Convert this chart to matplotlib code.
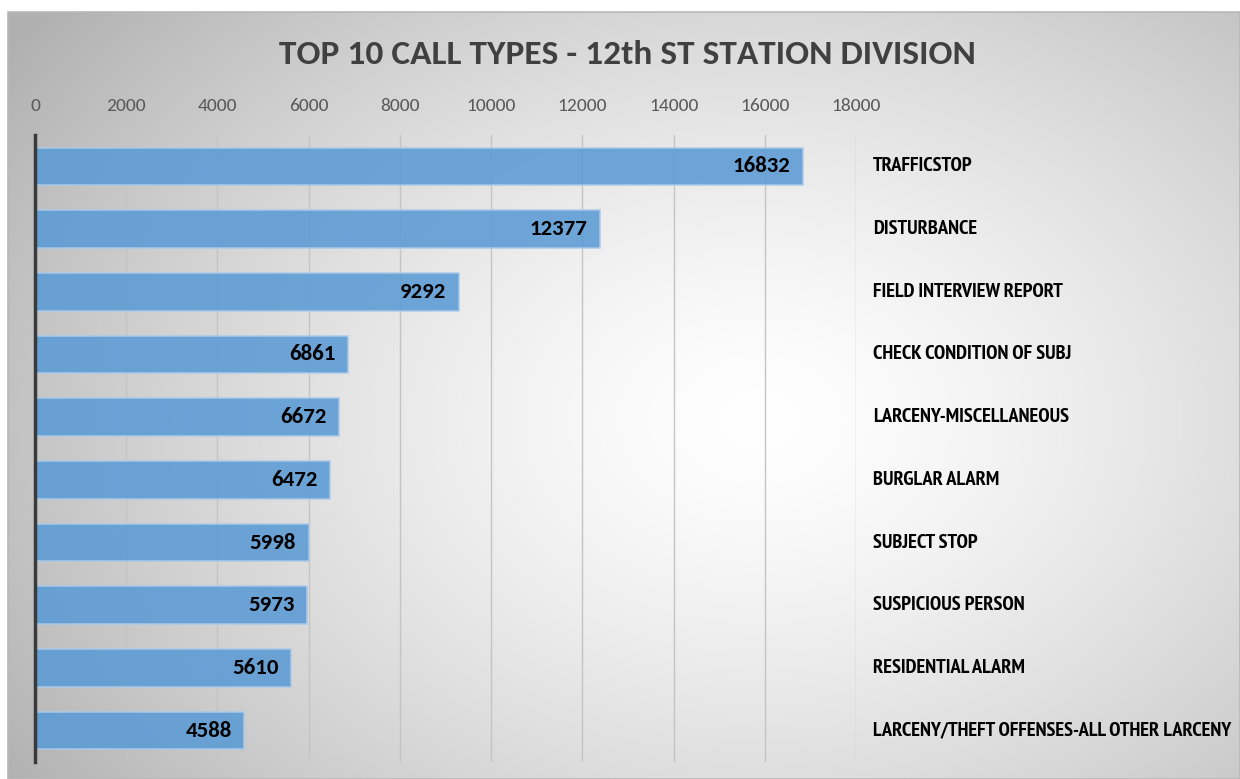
import numpy as np
import matplotlib
matplotlib.use('Agg')
import matplotlib.pyplot as plt
from matplotlib.patches import Rectangle
import logging
logging.getLogger('matplotlib.font_manager').setLevel(logging.ERROR)

categories = ['TRAFFICSTOP', 'DISTURBANCE', 'FIELD INTERVIEW REPORT',
              'CHECK CONDITION OF SUBJ', 'LARCENY-MISCELLANEOUS', 'BURGLAR ALARM',
              'SUBJECT STOP', 'SUSPICIOUS PERSON', 'RESIDENTIAL ALARM',
              'LARCENY/THEFT OFFENSES-ALL OTHER LARCENY']
counts = [16832, 12377, 9292, 6861, 6672, 6472, 5998, 5973, 5610, 4588]
xticks = np.arange(0, 18001, 2000)

main_font = ['Carlito', 'Lato', 'DejaVu Sans']
narrow_font = ['PT Sans Narrow', 'DejaVu Sans']

W, H = 1240, 779
fig = plt.figure(figsize=(W / 100, H / 100), dpi=100)

# background: white page, gray radial gradient panel
bg = fig.add_axes([0, 0, 1, 1], zorder=-5)
bg.set_xlim(0, W)
bg.set_ylim(H, 0)
bg.axis('off')
x0, y0 = 8, 12
gx, gy = np.meshgrid(np.linspace(x0, W, 400), np.linspace(y0, H, 260))
r = np.sqrt(((gx - 760) / 760) ** 2 + ((gy - 420) / 560) ** 2)
shade = 1.0 - 0.24 * np.clip(r, 0, 1.2) ** 1.4
bg.imshow(np.dstack([shade] * 3), extent=[x0, W, H, y0], aspect='auto',
          interpolation='bilinear')
bg.add_patch(Rectangle((x0, y0), W - x0, H - y0, fill=False, ec='#b8b8b8', lw=1.2))

fig.text(627 / W, 1 - 55 / H, 'TOP 10 CALL TYPES - 12th ST STATION DIVISION',
         ha='center', va='center', fontsize=25.5, fontweight='bold',
         color='#404040', family=main_font)

ax = fig.add_axes([35 / W, 1 - 762 / H, (856 - 35) / W, (762 - 135) / H])
ax.patch.set_alpha(0)
y = np.arange(len(categories))
ax.barh(y, counts, height=0.6, color='#5b9bd5', alpha=0.88,
        edgecolor='#a9cbeb', linewidth=1.2, zorder=3)
ax.set_xlim(0, 18000)
ax.set_ylim(len(categories) - 0.5, -0.5)
ax.set_xticks(xticks)
ax.xaxis.tick_top()
ax.tick_params(axis='x', length=0, pad=15, labelsize=14, labelcolor='#595959')
for lab in ax.get_xticklabels():
    lab.set_family(main_font)
ax.set_yticks([])
ax.grid(axis='x', color='#c4c4c4', lw=1, zorder=0)
for s in ['top', 'right', 'bottom']:
    ax.spines[s].set_visible(False)
ax.spines['left'].set_color('#3a3a3a')
ax.spines['left'].set_linewidth(2.5)
ax.spines['left'].set_zorder(5)

for i, v in enumerate(counts):
    ax.annotate(str(v), xy=(v, i), xytext=(-9, 0), textcoords='offset points',
                ha='right', va='center', fontsize=16.5, fontweight='bold',
                color='black', family=main_font, zorder=6)
    ax.annotate(categories[i], xy=(1, i), xycoords=('axes fraction', 'data'),
                xytext=(12, 0), textcoords='offset points', ha='left', va='center',
                fontsize=14.7, fontweight='bold', color='black',
                family=narrow_font, annotation_clip=False)

fig.savefig('out.png', dpi=100)
